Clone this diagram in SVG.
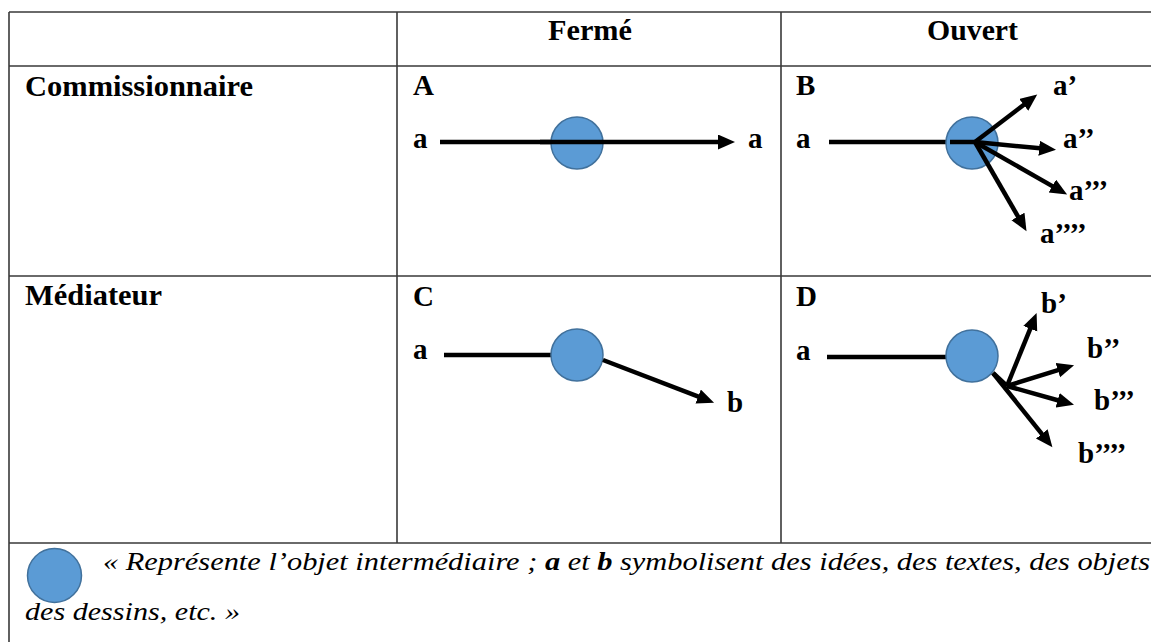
<svg xmlns="http://www.w3.org/2000/svg" width="1151" height="642" viewBox="0 0 1151 642">
<style>
.grid{stroke:#3a3a3a;stroke-width:1.6;fill:none}
.lbl{font-family:"Liberation Serif","Times New Roman",serif;font-weight:bold;font-size:29px;fill:#000}
.hdr{font-family:"Liberation Serif","Times New Roman",serif;font-weight:bold;font-size:29px;fill:#000}
.leg{font-family:"Liberation Serif","Times New Roman",serif;font-style:italic;font-size:25px;fill:#000}
.obj{fill:#5b9bd5;stroke:#41719c;stroke-width:1.5}
.ln{stroke:#000;stroke-width:4.5;fill:none}
.ar{stroke:#000;stroke-width:4.5;fill:none;marker-end:url(#ah)}
</style>
<defs>
<marker id="ah" markerUnits="userSpaceOnUse" markerWidth="18" markerHeight="16" refX="1" refY="7.5" orient="auto">
<path d="M0,0 L17,7.5 L0,15 z" fill="#000"/>
</marker>
</defs>
<rect width="1151" height="642" fill="#fff"/>
<g id="table">
<path class="grid" d="M9,12 H1151 M9,66 H1151 M9,276 H1151 M9,543 H1151 M9,12 V642 M397,12 V543 M781,12 V543"/>
</g>
<g id="headers">
<text class="hdr" x="548" y="40" textLength="84" lengthAdjust="spacingAndGlyphs">Fermé</text>
<text class="hdr" x="927" y="40" textLength="91" lengthAdjust="spacingAndGlyphs">Ouvert</text>
<text class="hdr" x="25" y="96" textLength="228" lengthAdjust="spacingAndGlyphs">Commissionnaire</text>
<text class="hdr" x="25" y="305" textLength="137" lengthAdjust="spacingAndGlyphs">Médiateur</text>
</g>
<g id="connectors">
<line class="ln" x1="440" y1="142" x2="552" y2="142"/>
<line class="ln" x1="829" y1="142" x2="975" y2="142"/>
<line class="ln" x1="444" y1="355" x2="552" y2="355"/>
<line class="ln" x1="827" y1="357" x2="948" y2="357"/>
<line class="ln" x1="993" y1="373" x2="1007" y2="386"/>
</g>
<g id="nodeA">
<text class="lbl" x="413" y="95">A</text>
<text class="lbl" x="413" y="148">a</text>
<circle class="obj" cx="577" cy="143" r="26"/>
<line class="ar" x1="540" y1="142" x2="719" y2="142"/>
<text class="lbl" x="748" y="148">a</text>
</g>
<g id="nodeB">
<text class="lbl" x="796" y="95">B</text>
<text class="lbl" x="796" y="148">a</text>
<circle class="obj" cx="972" cy="143" r="26"/>
<line class="ln" x1="950" y1="142" x2="975" y2="142"/>
<line class="ar" x1="975" y1="142" x2="1024.5" y2="104.3"/>
<line class="ar" x1="975" y1="142" x2="1040.1" y2="148.3"/>
<line class="ar" x1="975" y1="142" x2="1053.2" y2="186.6"/>
<line class="ar" x1="975" y1="142" x2="1018.5" y2="217.3"/>
<text class="lbl" x="1053" y="95">a’</text>
<text class="lbl" x="1063" y="148">a’’</text>
<text class="lbl" x="1069" y="200">a’’’</text>
<text class="lbl" x="1040" y="243">a’’’’</text>
</g>
<g id="nodeC">
<text class="lbl" x="413" y="306">C</text>
<text class="lbl" x="413" y="359">a</text>
<circle class="obj" cx="577" cy="355" r="26"/>
<line class="ar" x1="603" y1="360" x2="699.1" y2="396.9"/>
<text class="lbl" x="727" y="412">b</text>
</g>
<g id="nodeD">
<text class="lbl" x="796" y="306">D</text>
<text class="lbl" x="796" y="360">a</text>
<circle class="obj" cx="972" cy="356" r="26"/>
<line class="ar" x1="993" y1="373" x2="1042.4" y2="434.7"/>
<line class="ar" x1="1007" y1="386" x2="1030.6" y2="327.8"/>
<line class="ar" x1="1007" y1="386" x2="1058.8" y2="369.9"/>
<line class="ar" x1="1007" y1="386" x2="1058.6" y2="400.5"/>
<text class="lbl" x="1041" y="313">b’</text>
<text class="lbl" x="1087" y="358">b’’</text>
<text class="lbl" x="1094" y="410">b’’’</text>
<text class="lbl" x="1078" y="463">b’’’’</text>
</g>
<g id="legend">
<circle class="obj" cx="54.5" cy="575.5" r="27"/>
<text class="leg" x="103" y="570" textLength="1047" lengthAdjust="spacingAndGlyphs">« Représente l’objet intermédiaire ; <tspan font-weight="bold">a</tspan> et <tspan font-weight="bold">b</tspan> symbolisent des idées, des textes, des objets</text>
<text class="leg" x="25" y="620" textLength="215" lengthAdjust="spacingAndGlyphs">des dessins, etc. »</text>
</g>
</svg>
